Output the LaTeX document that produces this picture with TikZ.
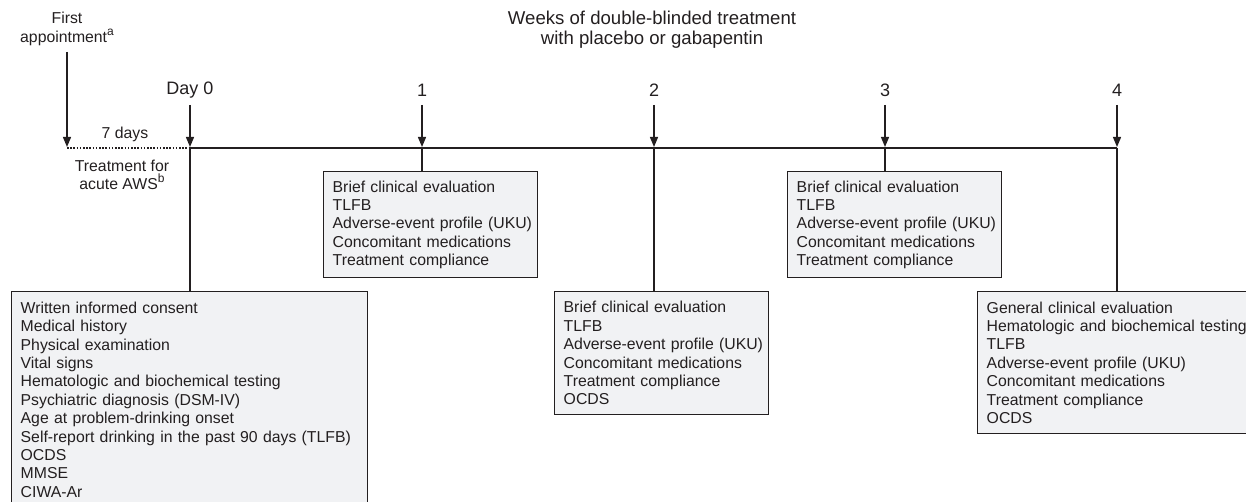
\documentclass[tikz,border=0pt]{standalone}
\usepackage{fontspec}
\setmainfont{Liberation Sans}
\usetikzlibrary{arrows.meta}
\definecolor{ink}{HTML}{231F20}
\definecolor{boxfill}{HTML}{F1F2F4}
\newcommand{\supr}[1]{\raisebox{0.45em}{\fontsize{12}{12}\selectfont #1}}
\tikzset{
  line/.style={draw=ink, line width=1.3pt},
  arr/.style={line, -{Triangle[length=10pt,width=8pt]}, shorten >=1pt},
  lbl/.style={text=ink, font=\fontsize{18}{21}\selectfont, inner sep=0pt},
  small/.style={text=ink, font=\fontsize{15.8}{18.5}\selectfont, inner sep=0pt, align=center},
  listbox/.style={draw=ink, line width=1.4pt, fill=boxfill, text=ink,
    font=\fontsize{15.8}{18.35}\selectfont, align=left, anchor=north west,
    inner xsep=9pt, inner ysep=0pt},
}
\begin{document}
\begin{tikzpicture}[x=1pt,y=-1pt]
\useasboundingbox (0,0) rectangle (1246,502);
\clip (0,0) rectangle (1246,502);
% titles
\node[lbl, align=center, font=\fontsize{18.6}{20}\selectfont] (title) at (652,30) {Weeks of double-blinded treatment\\with placebo or gabapentin};
\node[small] (first) at (67,29) {First\\appointment\supr{a}};
\node[lbl] (lab0) at (190,90) {Day 0};
\node[lbl] (lab1) at (422,90) {1};
\node[lbl] (lab2) at (654,90) {2};
\node[lbl] (lab3) at (885,90) {3};
\node[lbl] (lab4) at (1117,90) {4};
\node[small] (seven) at (125,134) {7 days};
\node[small] (aws) at (122,175) {Treatment for\\acute AWS\supr{b}};
% timeline coordinates
\coordinate (tf) at (67,148);
\coordinate (t0) at (190,148);
\coordinate (t1) at (422,148);
\coordinate (t2) at (654,148);
\coordinate (t3) at (885,148);
\coordinate (t4) at (1117,148);
\coordinate (af) at (67,52);
\coordinate (a0) at (190,105);
\coordinate (a1) at (422,105);
\coordinate (a2) at (654,105);
\coordinate (a3) at (885,105);
\coordinate (a4) at (1117,105);
% boxes
\node[listbox, text width=338pt, minimum height=216pt] (b0) at (11,291) {%
Written informed consent\\
Medical history\\
Physical examination\\
Vital signs\\
Hematologic and biochemical testing\\
Psychiatric diagnosis (DSM-IV)\\
Age at problem-drinking onset\\
Self-report drinking in the past 90 days (TLFB)\\
OCDS\\
MMSE\\
CIWA-Ar};
\node[listbox, text width=196pt, minimum height=106pt] (b1) at (323,171) {%
Brief clinical evaluation\\
TLFB\\
\mbox{Adverse-event profile (UKU)}\\
Concomitant medications\\
Treatment compliance};
\node[listbox, text width=196pt, minimum height=123pt] (b2) at (554,291) {%
Brief clinical evaluation\\
TLFB\\
\mbox{Adverse-event profile (UKU)}\\
Concomitant medications\\
Treatment compliance\\
OCDS};
\node[listbox, text width=196pt, minimum height=106pt] (b3) at (787,171) {%
Brief clinical evaluation\\
TLFB\\
\mbox{Adverse-event profile (UKU)}\\
Concomitant medications\\
Treatment compliance};
\node[listbox, text width=282pt, minimum height=142pt] (b4) at (977,291) {%
General clinical evaluation\\
Hematologic and biochemical testing\\
TLFB\\
Adverse-event profile (UKU)\\
Concomitant medications\\
Treatment compliance\\
OCDS};
% lines
\draw[line, line width=1.2pt, dash pattern=on 1.6pt off 1.6pt] (tf) -- (t0);
\draw[line] (t0) -- (t4);
\draw[arr] (af) -- (tf);
\draw[arr] (a0) -- (t0);
\draw[arr] (a1) -- (t1);
\draw[arr] (a2) -- (t2);
\draw[arr] (a3) -- (t3);
\draw[arr] (a4) -- (t4);
\draw[line] (t0) -- (t0 |- b0.north);
\draw[line] (t1) -- (t1 |- b1.north);
\draw[line] (t2) -- (t2 |- b2.north);
\draw[line] (t3) -- (t3 |- b3.north);
\draw[line] (t4) -- (t4 |- b4.north);
\end{tikzpicture}
\end{document}
